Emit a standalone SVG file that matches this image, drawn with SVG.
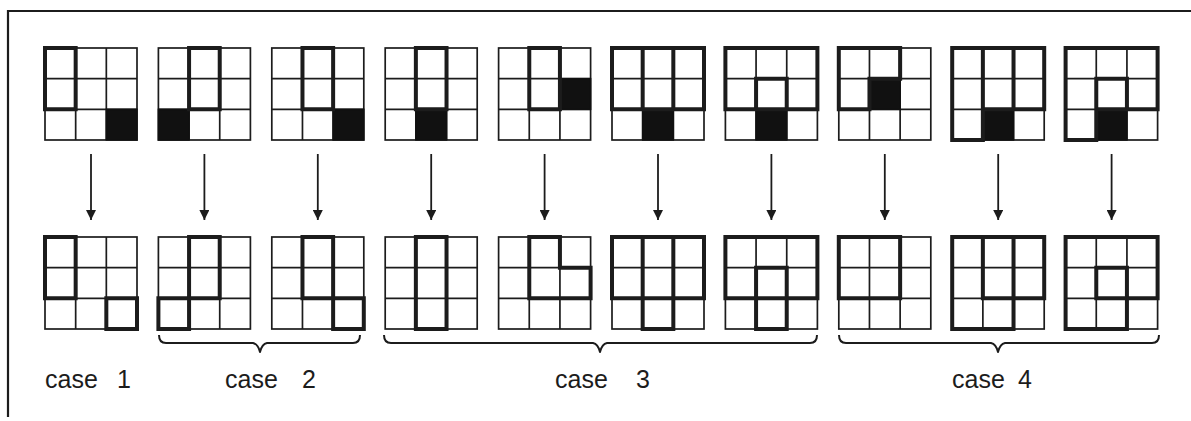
<svg xmlns="http://www.w3.org/2000/svg" xmlns:xlink="http://www.w3.org/1999/xlink" width="1191" height="421" viewBox="0 0 1191 421">
<style>
.thin{fill:none;stroke:#1c1c1c;stroke-width:1.7}
.thk{fill:none;stroke:#1c1c1c;stroke-width:4;stroke-linejoin:miter;stroke-linecap:square}
.blk{fill:#111;stroke:#111;stroke-width:1.5}
.con{fill:none;stroke:#1c1c1c;stroke-width:1.8}
.brace{fill:none;stroke:#1c1c1c;stroke-width:2;stroke-linejoin:round}
.frame{fill:none;stroke:#1c1c1c;stroke-width:2.2}
.lbl{font-family:"Liberation Sans",Arial,sans-serif;font-size:25px;fill:#1c1c1c}
</style>
<defs>
<g id="cells" class="thin"><rect x="0" y="0" width="92" height="92"/><path d="M30.67 0V92M61.33 0V92M0 30.67H92M0 61.33H92"/></g>
<marker id="ah" viewBox="0 0 10 10" refX="10" refY="5" markerUnits="userSpaceOnUse" markerWidth="10" markerHeight="10" orient="auto"><path d="M0 0L10 5L0 10Z" fill="#1c1c1c"/></marker>
</defs>
<g id="frame"><path class="frame" d="M8 417V11H1191"/></g>

<g id="g1-top" transform="translate(45,48)"><use xlink:href="#cells"/><rect class="blk" x="61.33" y="61.33" width="30.67" height="30.67"/><path class="thk" d="M0 0H30.67V61.33H0Z"/></g>
<g id="g2-top" transform="translate(158.4,48)"><use xlink:href="#cells"/><rect class="blk" x="0" y="61.33" width="30.67" height="30.67"/><path class="thk" d="M30.67 0H61.33V61.33H30.67Z"/></g>
<g id="g3-top" transform="translate(271.8,48)"><use xlink:href="#cells"/><rect class="blk" x="61.33" y="61.33" width="30.67" height="30.67"/><path class="thk" d="M30.67 0H61.33V61.33H30.67Z"/></g>
<g id="g4-top" transform="translate(385.2,48)"><use xlink:href="#cells"/><rect class="blk" x="30.67" y="61.33" width="30.67" height="30.67"/><path class="thk" d="M30.67 0H61.33V61.33H30.67Z"/></g>
<g id="g5-top" transform="translate(498.6,48)"><use xlink:href="#cells"/><rect class="blk" x="61.33" y="30.67" width="30.67" height="30.67"/><path class="thk" d="M30.67 0H61.33V61.33H30.67Z"/></g>
<g id="g6-top" transform="translate(612,48)"><use xlink:href="#cells"/><rect class="blk" x="30.67" y="61.33" width="30.67" height="30.67"/><path class="thk" d="M0 0H92V61.33H0Z M30.67 0V61.33 M61.33 0V61.33"/></g>
<g id="g7-top" transform="translate(725.4,48)"><use xlink:href="#cells"/><rect class="blk" x="30.67" y="61.33" width="30.67" height="30.67"/><path class="thk" d="M0 0H92V61.33H0Z M30.67 61.33V30.67H61.33V61.33"/></g>
<g id="g8-top" transform="translate(838.8,48)"><use xlink:href="#cells"/><rect class="blk" x="30.67" y="30.67" width="30.67" height="30.67"/><path class="thk" d="M0 0H61.33V30.67H30.67V61.33H0Z"/></g>
<g id="g9-top" transform="translate(952.2,48)"><use xlink:href="#cells"/><rect class="blk" x="30.67" y="61.33" width="30.67" height="30.67"/><path class="thk" d="M0 92V0H92V61.33H30.67 M0 92H30.67V0 M61.33 0V61.33"/></g>
<g id="g10-top" transform="translate(1065.6,48)"><use xlink:href="#cells"/><rect class="blk" x="30.67" y="61.33" width="30.67" height="30.67"/><path class="thk" d="M92 61.33V0H0V92H30.67V30.67H61.33V61.33H92 M30.67 61.33H61.33"/></g>

<g id="g1-bottom" transform="translate(45,237)"><use xlink:href="#cells"/><path class="thk" d="M0 0H30.67V61.33H0Z M61.33 61.33H92V92H61.33Z"/></g>
<g id="g2-bottom" transform="translate(158.4,237)"><use xlink:href="#cells"/><path class="thk" d="M30.67 0H61.33V61.33H30.67Z M0 61.33H30.67V92H0Z"/></g>
<g id="g3-bottom" transform="translate(271.8,237)"><use xlink:href="#cells"/><path class="thk" d="M30.67 0H61.33V61.33H30.67Z M61.33 61.33H92V92H61.33Z"/></g>
<g id="g4-bottom" transform="translate(385.2,237)"><use xlink:href="#cells"/><path class="thk" d="M30.67 0H61.33V92H30.67Z"/></g>
<g id="g5-bottom" transform="translate(498.6,237)"><use xlink:href="#cells"/><path class="thk" d="M30.67 0H61.33V30.67H92V61.33H30.67Z"/></g>
<g id="g6-bottom" transform="translate(612,237)"><use xlink:href="#cells"/><path class="thk" d="M0 0H92V61.33H0Z M30.67 0V61.33 M61.33 0V61.33 M30.67 61.33V92H61.33V61.33"/></g>
<g id="g7-bottom" transform="translate(725.4,237)"><use xlink:href="#cells"/><path class="thk" d="M0 0H92V61.33H0Z M30.67 61.33V30.67H61.33V61.33 M30.67 61.33V92H61.33V61.33"/></g>
<g id="g8-bottom" transform="translate(838.8,237)"><use xlink:href="#cells"/><path class="thk" d="M0 0H61.33V61.33H0Z"/></g>
<g id="g9-bottom" transform="translate(952.2,237)"><use xlink:href="#cells"/><path class="thk" d="M0 92V0H92V61.33H30.67V0 M0 92H61.33V0"/></g>
<g id="g10-bottom" transform="translate(1065.6,237)"><use xlink:href="#cells"/><path class="thk" d="M92 61.33V0H0V92H61.33V30.67H30.67V61.33H92"/></g>

<g id="connectors" class="con">
<path d="M91 154V220" marker-end="url(#ah)"/>
<path d="M204.4 154V220" marker-end="url(#ah)"/>
<path d="M317.8 154V220" marker-end="url(#ah)"/>
<path d="M431.2 154V220" marker-end="url(#ah)"/>
<path d="M544.6 154V220" marker-end="url(#ah)"/>
<path d="M658 154V220" marker-end="url(#ah)"/>
<path d="M771.4 154V220" marker-end="url(#ah)"/>
<path d="M884.8 154V220" marker-end="url(#ah)"/>
<path d="M998.2 154V220" marker-end="url(#ah)"/>
<path d="M1111.6 154V220" marker-end="url(#ah)"/>
</g>

<g id="braces" class="brace">
<path d="M159 335Q159 343 166 343L253 343Q258 344 260 352Q262 344 267 343L353 343Q360 343 360 335"/>
<path d="M384 335Q384 343 391 343L593 343Q598 344 600 352Q602 344 607 343L810 343Q817 343 817 335"/>
<path d="M839 335Q839 343 846 343L991 343Q996 344 998 352Q1000 344 1005 343L1152 343Q1159 343 1159 335"/>
</g>

<g id="labels" class="lbl">
<text x="45" y="388">case</text><text x="117" y="388">1</text>
<text x="225" y="388">case</text><text x="302" y="388">2</text>
<text x="555" y="388">case</text><text x="636" y="388">3</text>
<text x="952" y="388">case</text><text x="1018" y="388">4</text>
</g>
</svg>
